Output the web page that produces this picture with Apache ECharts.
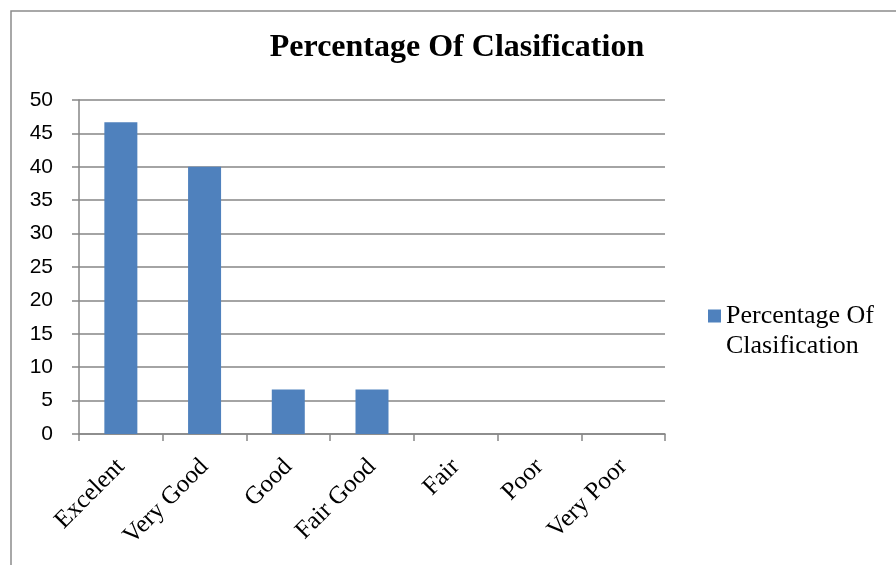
<!DOCTYPE html>
<html><head><meta charset="utf-8">
<script src="https://cdn.jsdelivr.net/npm/echarts@6/dist/echarts.min.js"></script>
<style>html,body{margin:0;padding:0;background:#fff}#c{width:896px;height:565px}</style>
</head><body><div id="c"></div>
<script>
const categories = ['Excelent','Very Good','Good','Fair Good','Fair','Poor','Very Poor'];
const percentages = [46.67, 40, 6.67, 6.67, 0, 0, 0];
const yTicks = [0,5,10,15,20,25,30,35,40,45,50];
const seriesName = 'Percentage Of Clasification';

const chart = echarts.init(document.getElementById('c'), null, {renderer:'canvas'});
chart.setOption({
  animation:false,
  backgroundColor:'#fff',
  graphic:[{type:'rect',shape:{x:11,y:11,width:1000,height:700},style:{fill:'none',stroke:'#8c8c8c',lineWidth:1.5},silent:true}],
  title:{text:'Percentage Of Clasification',left:457,textAlign:'center',top:32,padding:0,
    textStyle:{fontFamily:'Liberation Serif',fontWeight:'bold',fontSize:32,color:'#000'}},
  legend:{left:708,top:301,padding:0,orient:'vertical',itemWidth:13,itemHeight:43,itemGap:0,
    formatter:()=> 'Percentage Of\nClasification',
    textStyle:{fontFamily:'Liberation Serif',fontSize:26,color:'#000',lineHeight:30},
    data:[{name:seriesName,icon:'path://M0,0L13,0L13,13L0,13Z M0,43L13,43'}]},
  grid:{left:79,right:231,top:100,bottom:131},
  xAxis:{type:'category',data:categories,
    axisLine:{lineStyle:{color:'#868686',width:1.5}},
    axisTick:{show:true,length:7,lineStyle:{color:'#868686',width:1.5}},
    axisLabel:{rotate:45,interval:0,margin:29,fontFamily:'Liberation Serif',fontSize:25,color:'#000'}},
  yAxis:{type:'value',min:yTicks[0],max:yTicks[yTicks.length-1],interval:5,
    axisLine:{show:true,lineStyle:{color:'#868686',width:1.5}},
    axisTick:{show:true,length:7,lineStyle:{color:'#868686',width:1.5}},
    axisLabel:{margin:26,fontFamily:'Liberation Sans',fontSize:21,color:'#000'},
    splitLine:{lineStyle:{color:'#868686',width:1.5}}},
  series:[{name:seriesName,type:'bar',data:percentages,barWidth:33,
    itemStyle:{color:'#4f81bd'}}]
});
</script></body></html>
